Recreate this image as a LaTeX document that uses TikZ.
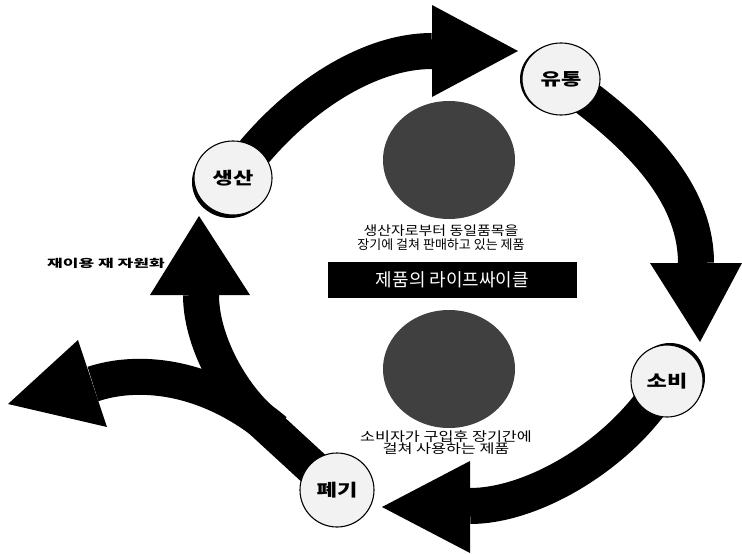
\documentclass[tikz,border=0pt]{standalone}
\usepackage{fontspec}
\newfontfamily\kr{Noto Sans CJK KR}
\usetikzlibrary{shapes.geometric}
\pgfdeclarelayer{back}
\pgfdeclarelayer{bg}
\pgfsetlayers{back,bg,main}
\begin{document}
\begin{tikzpicture}[x=1pt,y=-1pt,
  band/.style={line width=36pt, draw=black, line cap=butt},
  head/.style={fill=black, draw=none},
  stage/.style={ellipse, draw=black, line width=1.1pt, fill=gray!10, inner sep=0pt,
    font=\kr\bfseries\fontsize{17}{17}\selectfont},
  shade/.style={ellipse, fill=black, draw=none, inner sep=0pt},
  disc/.style={ellipse, fill=black!75, draw=none, inner sep=0pt, minimum width=132pt, minimum height=118pt},
  note/.style={font=\kr\fontsize{13}{14}\selectfont, align=center, inner sep=0pt}
]
\useasboundingbox (0,0) rectangle (742,554);
\begin{pgfonlayer}{back}
  \fill[white] (0,0) rectangle (742,554);
\end{pgfonlayer}

% shadows
\node[shade, minimum width=76pt, minimum height=72pt] at (230,182) {};
\node[shade, minimum width=76pt, minimum height=70pt] at (558,79) {};
\node[shade, minimum width=70pt, minimum height=70pt] at (670,378) {};

% stage circles
\node[stage, minimum width=78pt, minimum height=74pt] (sa) at (233,178) {\scalebox{1.3}[1]{생산}};
\node[stage, minimum width=78pt, minimum height=72pt] (yt) at (561,79) {\scalebox{1.3}[1]{유통}};
\node[stage, minimum width=72pt, minimum height=72pt] (sb) at (667,381) {\scalebox{1.3}[1]{소비}};
\node[stage, minimum width=74pt, minimum height=74pt] (pg) at (337,490) {\scalebox{1.3}[1]{폐기}};

% dark discs
\node[disc] (d1) at (449,160) {};
\node[disc] (d2) at (449,369) {};

% texts
\node[note] (t1) at (441,238) {\scalebox{1.15}[1]{생산자로부터 동일품목을}\\장기에 걸쳐 판매하고 있는 제품};
\node[fill=black, text=white, minimum width=249pt, minimum height=36pt, inner sep=0pt,
  font=\kr\fontsize{18}{18}\selectfont] (title) at (452.5,280) {제품의 라이프싸이클};
\node[note, font=\kr\fontsize{13}{12}\selectfont] (t2) at (446,443) {\scalebox{1.25}[1]{소비자가 구입후 장기간에}\\\scalebox{1.25}[1]{걸쳐 사용하는 제품}};
\node[font=\kr\bfseries\fontsize{11}{11}\selectfont, inner sep=0pt] (reuse) at (106,263) {\scalebox{1.55}[1]{재이용 재 자원화}};

% arrow coordinates
\coordinate (h1) at (432,51);
\coordinate (h2) at (696,263);
\coordinate (h3) at (470,506);
\coordinate (h4) at (201,295);
\coordinate (h5) at (93,384);
\coordinate (fork) at (275,431);

\begin{pgfonlayer}{bg}
  \draw[band, shorten <=-14pt] (sa) .. controls (300,95) and (370,51) .. (h1);
  \fill[head] (h1) ++(0,-46) -- ++(86,46) -- ++(-86,46) -- cycle;

  \draw[band, shorten <=-14pt] (yt) .. controls (650,145) and (696,200) .. (h2);
  \fill[head] (h2) ++(-46,0) -- ++(50,79) -- ++(42,-79) -- cycle;

  \draw[band, shorten <=-14pt] (sb) .. controls (610,460) and (530,506) .. (h3);
  \fill[head] (h3) ++(0,-45) -- ++(-88,46) -- ++(88,46) -- cycle;

  \draw[band, shorten <=-14pt] (pg) -- (262,421) .. controls (230,393) and (201,340) .. (h4);
  \fill[head] (h4) ++(-51,0) -- ++(49,-79) -- ++(51,79) -- cycle;

  \draw[band] (fork) .. controls (205,372) and (135,370) .. (h5);
  \fill[head] (h5) ++(-15,-44) -- ++(-70,64) -- ++(99,23) -- cycle;
\end{pgfonlayer}
\end{tikzpicture}
\end{document}
